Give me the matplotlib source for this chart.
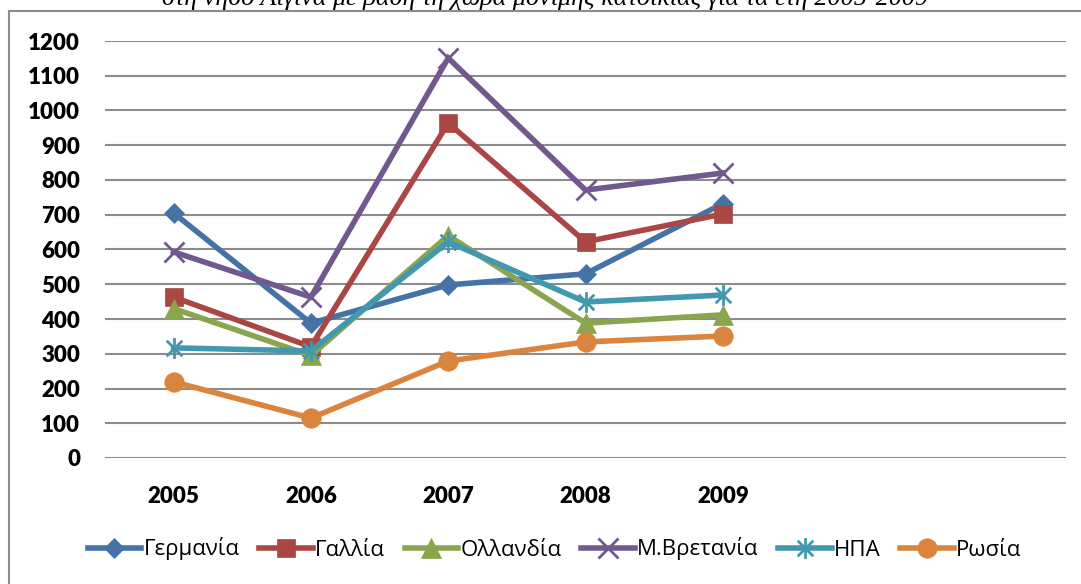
import matplotlib
matplotlib.use("Agg")
from matplotlib import pyplot as plt
from matplotlib.lines import Line2D
from matplotlib.path import Path

years = ['2005', '2006', '2007', '2008', '2009']
germany = [705, 388, 498, 530, 732]
france = [463, 320, 964, 622, 702]
netherlands = [430, 295, 640, 388, 412]
britain = [593, 463, 1151, 771, 820]
usa = [317, 308, 622, 449, 469]
russia = [219, 115, 279, 334, 351]

labels = ['Γερμανία', 'Γαλλία', 'Ολλανδία', 'Μ.Βρετανία', 'ΗΠΑ', 'Ρωσία']
colors = ['#4572A7', '#AA4643', '#89A54E', '#71588F', '#4198AF', '#DB843D']
yticks = list(range(0, 1201, 100))
title = 'στη νήσο Αίγινα με βάση τη χώρα μόνιμης κατοικίας για τα έτη 2005-2009'

# asterisk like Excel's star marker: vertical bar plus an x
star = Path(
    [(0, -1), (0, 1), (-0.75, -0.75), (0.75, 0.75), (-0.75, 0.75), (0.75, -0.75)],
    [Path.MOVETO, Path.LINETO, Path.MOVETO, Path.LINETO, Path.MOVETO, Path.LINETO],
)
markers = [('D', 10.5), ('s', 13), ('^', 14), ('x', 14), (star, 15), ('o', 14)]

W, H = 1081, 584
fig = plt.figure(figsize=(W / 100, H / 100), dpi=100)
ax = fig.add_axes([105 / W, 1 - 458 / H, (1066 - 105) / W, (458 - 41) / H])

grid_color = '#8C8C8C'
series = [germany, france, netherlands, britain, usa, russia]
x = list(range(len(years)))
for values, label, color, (marker, msize) in zip(series, labels, colors, markers):
    hollow = marker in ('x',) or isinstance(marker, Path)
    ax.plot(x, values, color=color, lw=4, marker=marker, markersize=msize,
            markerfacecolor=color, markeredgecolor=color,
            markeredgewidth=2 if hollow else 0.5, label=label,
            solid_joinstyle='miter', zorder=3)

ax.set_xlim(-0.5, 6.5)
ax.set_ylim(0, 1200)
ax.set_xticks(x, years)
ax.set_yticks(yticks, [str(t) for t in yticks])
ax.grid(axis='y', color=grid_color, lw=1.5)
ax.set_axisbelow(True)
for s in ax.spines.values():
    s.set_visible(False)
ax.tick_params(axis='both', length=0)
ax.tick_params(axis='y', pad=18)
ax.tick_params(axis='x', pad=20)
for t in ax.get_xticklabels() + ax.get_yticklabels():
    t.set_fontfamily(['Lato', 'DejaVu Sans'])
    t.set_fontweight('heavy')
    t.set_fontsize(16)

leg = fig.legend(loc='center', bbox_to_anchor=(0.513, 1 - 549 / H), ncol=6,
                 frameon=False, handlelength=2.4, handletextpad=0.1,
                 columnspacing=0.9, prop={'family': ['Open Sans', 'DejaVu Sans'], 'size': 16})

# chart frame (top and left edges visible)
fig.add_artist(Line2D([9 / W, 1], [1 - 11 / H, 1 - 11 / H], color='#8C8C8C', lw=1.5))
fig.add_artist(Line2D([9 / W, 9 / W], [0, 1 - 11 / H], color='#8C8C8C', lw=1.5))

fig.text(545 / W, 1 - 5 / H, title, ha='center', va='baseline',
         family='Liberation Serif', style='italic', fontsize=18.8)

fig.savefig('out.png', dpi=100)
